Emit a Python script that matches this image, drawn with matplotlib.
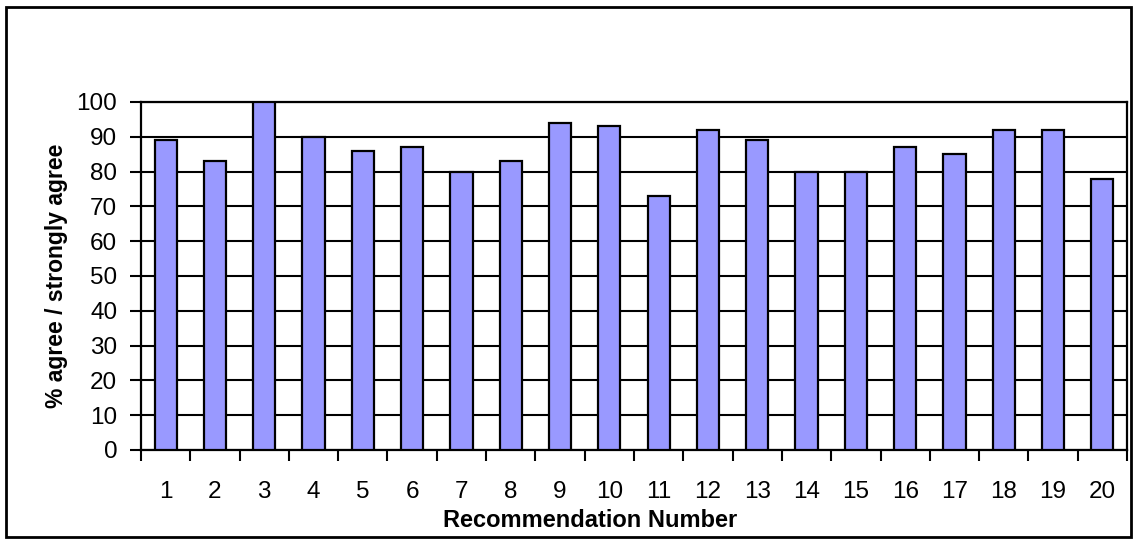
import matplotlib.pyplot as plt
import matplotlib.patches as patches
import numpy as np

plt.rcParams['font.family'] = ['Liberation Sans', 'DejaVu Sans']

# Data
recommendations = [str(i) for i in range(1, 21)]
pct_agree = [89, 83, 100, 90, 86, 87, 80, 83, 94, 93,
             73, 92, 89, 80, 80, 87, 85, 92, 92, 78]

fig = plt.figure(figsize=(11.35, 5.44), dpi=100)
ax = fig.add_axes([0.1242, 0.1728, 0.993 - 0.1242, 0.8125 - 0.1728])

x = np.arange(len(recommendations))
ax.bar(x, pct_agree, width=0.45, color='#9999ff', edgecolor='black',
       linewidth=1.6, zorder=3)

ax.set_xlim(-0.5, len(recommendations) - 0.5)
ax.set_ylim(0, 100)
ax.set_yticks(np.arange(0, 101, 10))
ax.yaxis.grid(True, color='black', linewidth=1.5, zorder=0)

# category labels centred, tick marks on the boundaries
ax.set_xticks(x)
ax.set_xticklabels(recommendations)
ax.set_xticks(np.arange(-0.5, len(recommendations)), minor=True)
ax.tick_params(axis='x', which='major', length=0, labelsize=17.5, pad=22)
ax.tick_params(axis='x', which='minor', length=8, width=1.5, direction='out')
ax.tick_params(axis='y', length=8, width=1.5, direction='out', labelsize=17.5, pad=9)

for s in ax.spines.values():
    s.set_linewidth(1.6)

ax.set_xlabel('Recommendation Number', fontsize=17, fontweight='bold',
              labelpad=5, x=0.456)
ax.set_ylabel('% agree / strongly agree', fontsize=16.5, fontweight='bold', labelpad=6)

# outer chart border
fig.patches.append(patches.Rectangle((6 / 1135, 7 / 544), 1125 / 1135, 530 / 544,
                                     transform=fig.transFigure, fill=False,
                                     edgecolor='black', linewidth=2))

fig.savefig('out.png', dpi=100)
